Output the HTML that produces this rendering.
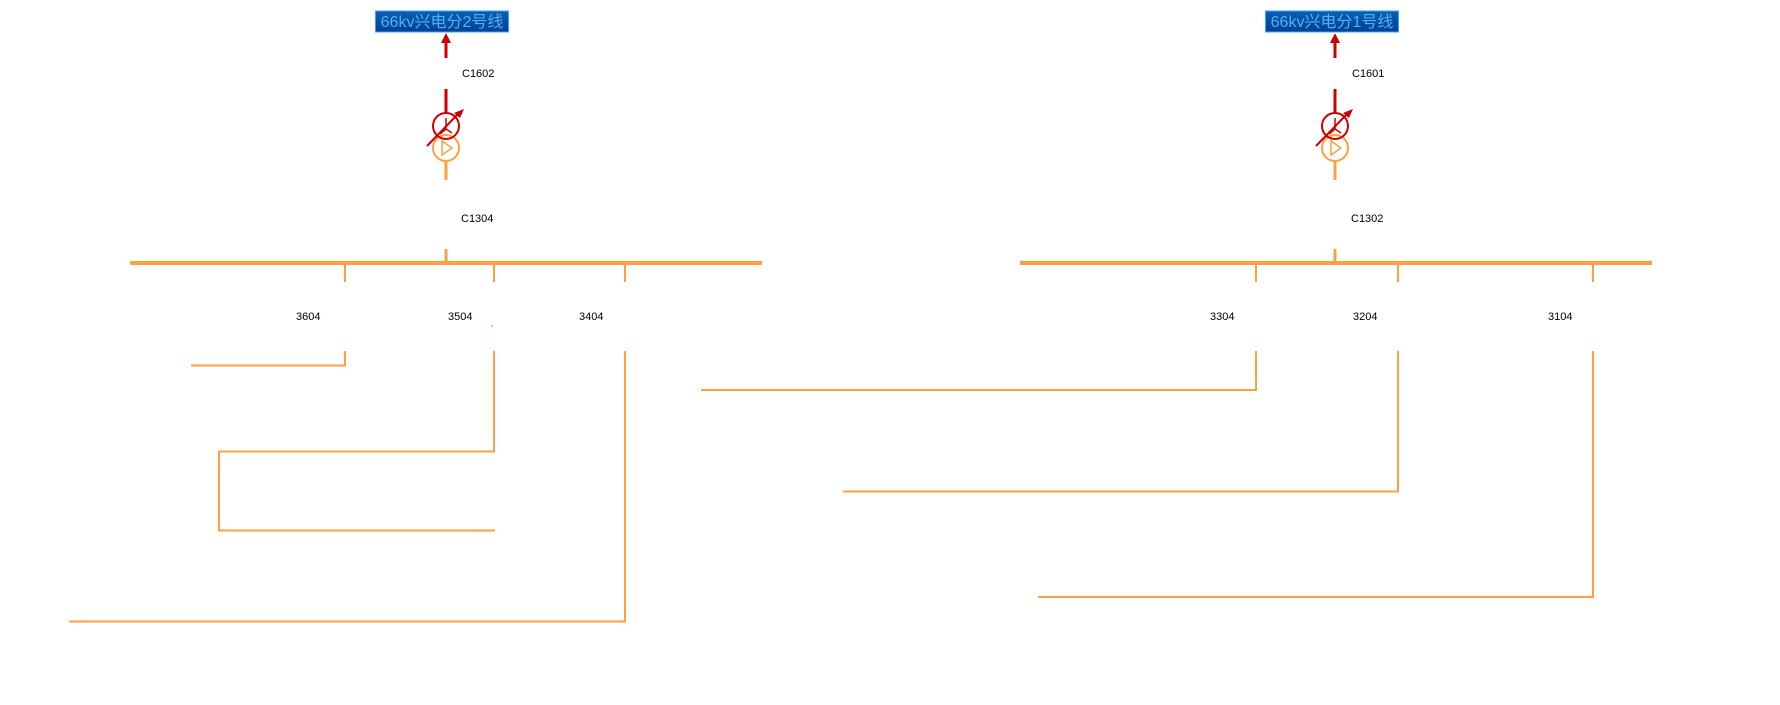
<!DOCTYPE html>
<html><head><meta charset="utf-8"><style>
html,body{margin:0;padding:0;background:#fff;width:1780px;height:705px;overflow:hidden}
</style></head><body>
<svg width="1780" height="705" xmlns="http://www.w3.org/2000/svg" font-family="Liberation Sans, sans-serif">
<defs>
<linearGradient id="g" x1="0" y1="0" x2="0" y2="1"><stop offset="0" stop-color="#0a5fb8"/><stop offset="1" stop-color="#003f93"/></linearGradient>
</defs>
<g id="L">
<rect x="375.5" y="11" width="133" height="21" fill="url(#g)" stroke="#3ea6e8" stroke-width="1"/>
<text x="442" y="27" text-anchor="middle" font-size="16" fill="#4fb2f0" font-family="Liberation Sans, Noto Sans CJK SC, sans-serif">66kv兴电分2号线</text>
<line x1="446" y1="58" x2="446" y2="42" stroke="#cc0000" stroke-width="3"/>
<polygon points="446,33 441,43 451,43" fill="#cc0000"/>
<text x="462" y="77" font-size="11" fill="#000">C1602</text>
<line x1="446" y1="89" x2="446" y2="113" stroke="#cc0000" stroke-width="3"/>
<circle cx="446" cy="148" r="13" fill="none" stroke="#ffa040" stroke-width="2"/>
<polygon points="442,141 442,155 452,148" fill="none" stroke="#ffa040" stroke-width="1.5"/>
<circle cx="446" cy="126" r="13" fill="none" stroke="#cc0000" stroke-width="2"/>
<path d="M446 118 V129 M446 129 L440 134 M446 129 L452 133" stroke="#cc0000" stroke-width="1.5" fill="none"/>
<line x1="427" y1="146" x2="460" y2="112" stroke="#cc0000" stroke-width="2"/>
<polygon points="464,109 454,113 460,118" fill="#cc0000"/>
<line x1="446" y1="162" x2="446" y2="180" stroke="#ffa040" stroke-width="3"/>
<text x="461" y="222" font-size="11" fill="#000">C1304</text>
</g>
<use href="#L" transform="translate(889,0)"/>
<rect x="1264" y="10" width="138" height="24" fill="#fff"/>
<rect x="1265.5" y="11" width="133" height="21" fill="url(#g)" stroke="#3ea6e8" stroke-width="1"/>
<text x="1332" y="27" text-anchor="middle" font-size="16" fill="#4fb2f0" font-family="Liberation Sans, Noto Sans CJK SC, sans-serif">66kv兴电分1号线</text>
<rect x="1340" y="65" width="60" height="16" fill="#fff"/>
<text x="1352" y="77" font-size="11" fill="#000">C1601</text>
<rect x="1340" y="210" width="60" height="16" fill="#fff"/>
<text x="1351" y="222" font-size="11" fill="#000">C1302</text>
<g stroke="#ffa040" fill="none">
<line x1="130" y1="263" x2="762" y2="263" stroke-width="4"/>
<line x1="1020" y1="263" x2="1652" y2="263" stroke-width="4"/>
<line x1="446" y1="249" x2="446" y2="263" stroke-width="3"/>
<line x1="1335" y1="249" x2="1335" y2="263" stroke-width="3"/>
<g stroke-width="2">
<line x1="345" y1="264" x2="345" y2="282"/><line x1="494" y1="264" x2="494" y2="282"/><line x1="625" y1="264" x2="625" y2="282"/>
<line x1="1256" y1="264" x2="1256" y2="282"/><line x1="1398" y1="264" x2="1398" y2="282"/><line x1="1593" y1="264" x2="1593" y2="282"/>
<polyline points="345,351 345,365.5 191,365.5"/>
<polyline points="494,351 494,451.5 219,451.5 219,530.5 495,530.5"/>
<polyline points="625,351 625,621.5 69,621.5"/>
<polyline points="1256,351 1256,390 701,390"/>
<polyline points="1398,351 1398,491.5 843,491.5"/>
<polyline points="1593,351 1593,597 1038,597"/>
</g>
</g>
<rect x="491" y="325" width="1.5" height="2" fill="#ffa040"/>
<g font-size="11" fill="#000">
<text x="296" y="320">3604</text><text x="448" y="320">3504</text><text x="579" y="320">3404</text>
<text x="1210" y="320">3304</text><text x="1353" y="320">3204</text><text x="1548" y="320">3104</text>
</g>
</svg>
</body></html>
